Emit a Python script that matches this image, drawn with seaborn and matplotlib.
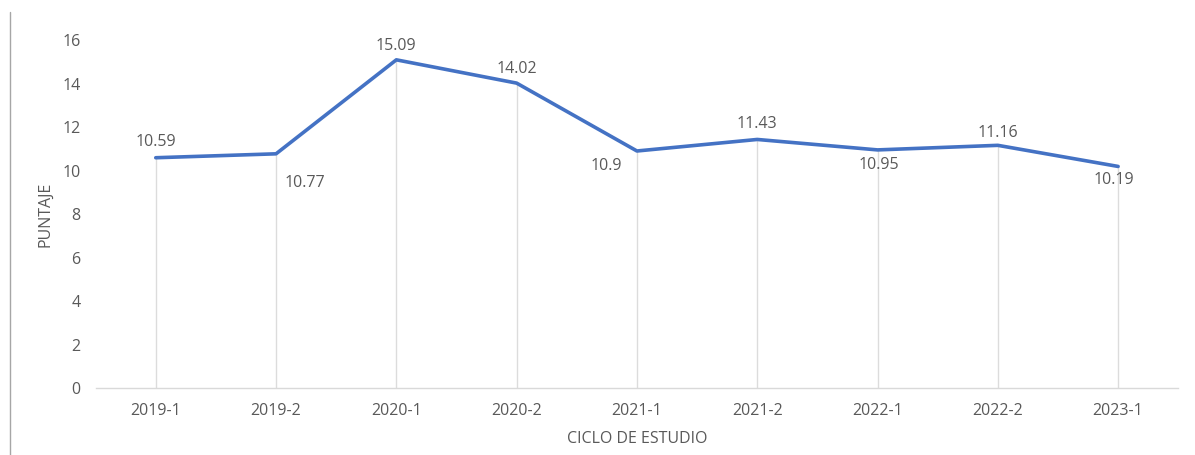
import matplotlib
matplotlib.use("Agg")
import matplotlib.pyplot as plt
import seaborn as sns
import pandas as pd
from matplotlib.lines import Line2D

ciclos = ["2019-1", "2019-2", "2020-1", "2020-2", "2021-1", "2021-2", "2022-1", "2022-2", "2023-1"]
puntaje = [10.59, 10.77, 15.09, 14.02, 10.90, 11.43, 10.95, 11.16, 10.19]
etiquetas = ["10.59", "10.77", "15.09", "14.02", "10.9", "11.43", "10.95", "11.16", "10.19"]
y_ticks = [0, 2, 4, 6, 8, 10, 12, 14, 16]

sns.set_theme(style="white")
plt.rcParams["font.family"] = ["Open Sans", "DejaVu Sans"]

df = pd.DataFrame({"ciclo": ciclos, "puntaje": puntaje})

fig = plt.figure(figsize=(11.95, 4.55), dpi=100)
ax = fig.add_axes([0.080, 0.147, 0.906, 0.765])

xs = list(range(len(ciclos)))
ax.vlines(xs, 0, puntaje, colors="#dcdcdc", linewidth=1.0, zorder=1)
sns.lineplot(data=df, x="ciclo", y="puntaje", sort=False, color="#4472C4",
             linewidth=2.6, ax=ax, zorder=3)

# label placement: (dx points, dy points)
offsets = [(0, 11, ), (21, -21), (0, 10), (0, 10),
           (-22, -11), (0, 11), (1, -11), (0, 9),
           (-3, -10)]
for x, y, lab, (dx, dy) in zip(xs, puntaje, etiquetas, offsets):
    ax.annotate(lab, (x, y), xytext=(dx, dy), textcoords="offset points",
                ha="center", va="center", fontsize=11.5, color="#595959")

ax.set_xlim(-0.5, len(ciclos) - 0.5)
ax.set_ylim(0, 16)
ax.set_yticks(y_ticks)
ax.tick_params(axis="y", labelsize=11.5, colors="#595959", length=0, pad=11)
ax.tick_params(axis="x", labelsize=11.5, colors="#595959", length=0, pad=11)
ax.set_xlabel("CICLO DE ESTUDIO", fontsize=11.5, color="#595959", labelpad=8)
ax.set_ylabel("PUNTAJE", fontsize=11.5, color="#595959", labelpad=6)
for s in ["top", "right", "left"]:
    ax.spines[s].set_visible(False)
ax.spines["bottom"].set_color("#d9d9d9")
ax.spines["bottom"].set_linewidth(1.0)

fig.add_artist(Line2D([10 / 1195, 10 / 1195], [0, 1 - 12 / 455], transform=fig.transFigure,
                      color="#a6a6a6", linewidth=1.0))

fig.savefig("out.png", dpi=100)
